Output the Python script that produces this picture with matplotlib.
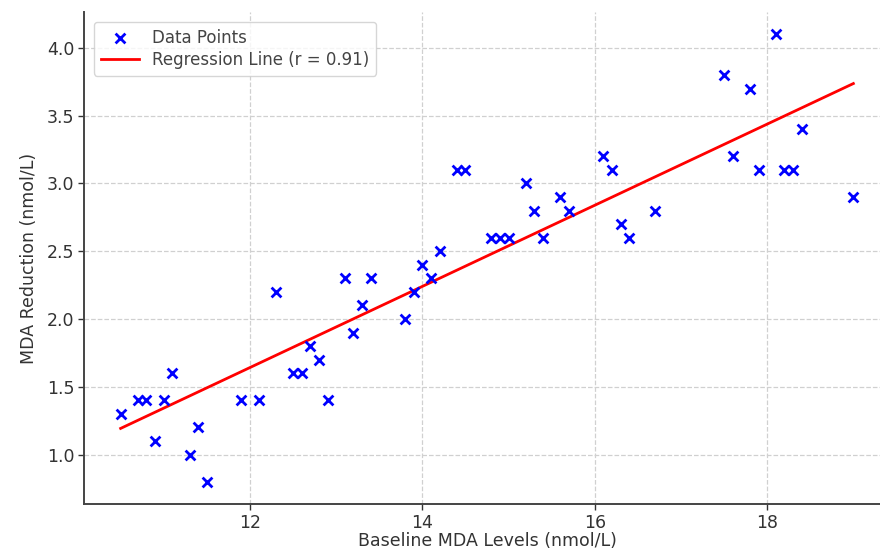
import matplotlib.pyplot as plt
import numpy as np

# baseline MDA levels (nmol/L) and reduction (nmol/L)
baseline_mda = [10.5, 10.7, 10.8, 10.9, 11.0, 11.1, 11.3, 11.4, 11.5, 11.9,
                12.1, 12.3, 12.5, 12.6, 12.7, 12.8, 12.9, 13.1, 13.2, 13.3,
                13.4, 13.8, 13.9, 14.0, 14.1, 14.2, 14.4, 14.5, 14.8, 14.9,
                15.0, 15.2, 15.3, 15.4, 15.6, 15.7, 16.1, 16.2, 16.3, 16.4,
                16.7, 17.5, 17.6, 17.8, 17.9, 18.1, 18.2, 18.3, 18.4, 19.0]
mda_reduction = [1.3, 1.4, 1.4, 1.1, 1.4, 1.6, 1.0, 1.2, 0.8, 1.4,
                 1.4, 2.2, 1.6, 1.6, 1.8, 1.7, 1.4, 2.3, 1.9, 2.1,
                 2.3, 2.0, 2.2, 2.4, 2.3, 2.5, 3.1, 3.1, 2.6, 2.6,
                 2.6, 3.0, 2.8, 2.6, 2.9, 2.8, 3.2, 3.1, 2.7, 2.6,
                 2.8, 3.8, 3.2, 3.7, 3.1, 4.1, 3.1, 3.1, 3.4, 2.9]
r_value = 0.91

x = np.array(baseline_mda)
y = np.array(mda_reduction)
slope, intercept = np.polyfit(x, y, 1)

fig = plt.figure(figsize=(8.8, 5.49), dpi=100)
# axes run a little past the right edge, as in the (cropped) reference
ax = fig.add_axes([84 / 880, 45 / 549, 806 / 880, 492 / 549])

ax.scatter(x, y, marker='x', color='blue', s=50, linewidths=2, label='Data Points', zorder=3)
ax.plot(x, slope * x + intercept, color='red', linewidth=2, label=f'Regression Line (r = {r_value})', zorder=2)

ax.set_xlabel('Baseline MDA Levels (nmol/L)', fontsize=12.5, color='#333333', labelpad=0)
ax.set_ylabel('MDA Reduction (nmol/L)', fontsize=12.5, color='#333333', labelpad=6)
ax.set_xticks([12, 14, 16, 18])
ax.set_yticks([1.0, 1.5, 2.0, 2.5, 3.0, 3.5, 4.0])
ax.tick_params(labelsize=12.5, colors='#333333', length=4, width=1, pad=3)
ax.grid(True, linestyle='--', color='#d0d0d0', linewidth=0.9)
ax.set_axisbelow(True)
for side in ['left', 'bottom']:
    ax.spines[side].set_color('#444444')
    ax.spines[side].set_linewidth(1.4)
for side in ['top', 'right']:
    ax.spines[side].set_visible(False)

leg = ax.legend(loc='upper left', fontsize=12, frameon=True, handlelength=2.3,
                labelspacing=0.25, borderaxespad=0.6)
for t in leg.get_texts():
    t.set_color('#444444')
leg.get_frame().set_edgecolor('#cccccc')

fig.savefig('out.png', dpi=100)
